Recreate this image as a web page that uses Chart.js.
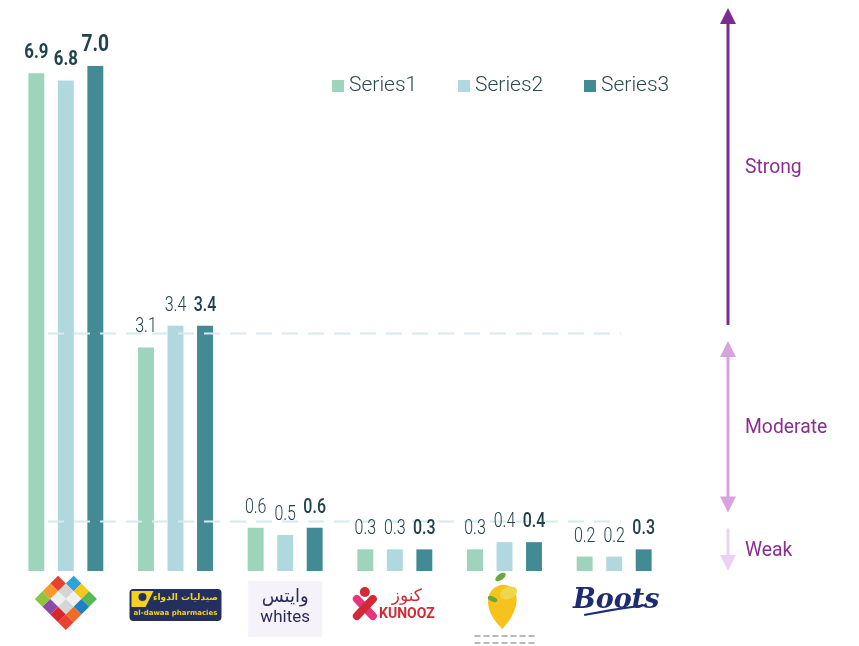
<!DOCTYPE html>
<html>
<head>
<meta charset="utf-8">
<script src="https://cdn.jsdelivr.net/npm/chart.js@4.4.1/dist/chart.umd.min.js"></script>
<style>
  html, body { margin: 0; padding: 0; background: #fff; }
  #wrap { width: 859px; height: 646px; position: relative; }
</style>
</head>
<body>
<div id="wrap"><canvas id="chart"></canvas></div>
<script>
// data
const categories = ["Nahdi", "Al-Dawaa", "Whites", "Kunooz", "Lemon", "Boots"];
const series1 = [6.9, 3.1, 0.6, 0.3, 0.3, 0.2];
const series2 = [6.8, 3.4, 0.5, 0.3, 0.4, 0.2];
const series3 = [7.0, 3.4, 0.6, 0.3, 0.4, 0.3];
const seriesNames = ["Series1", "Series2", "Series3"];
const seriesColors = ["#9dd4bb", "#b1d8df", "#438b94"];
const thresholds = [3.3, 0.7];
const bands = ["Strong", "Moderate", "Weak"];

const FONT = "Roboto, 'DejaVu Sans', sans-serif";

// draw text squeezed horizontally (the original uses a condensed face)
function narrowText(ctx, txt, x, y, sx) {
    ctx.save();
    ctx.translate(x, y);
    ctx.scale(sx, 1);
    ctx.fillText(txt, 0, 0);
    ctx.restore();
}

// dashed threshold lines, drawn over the bars but under the labels
const dashes = {
    id: "dashes",
    afterDatasetsDraw(chart) {
        const ctx = chart.ctx;
        const y = chart.scales.y;
        const area = chart.chartArea;
        ctx.save();
        ctx.strokeStyle = "#d6eaed";
        ctx.lineWidth = 2;
        ctx.setLineDash([16, 10]);
        thresholds.forEach(t => {
            const py = Math.round(y.getPixelForValue(t)) + 0.5;
            ctx.beginPath();
            ctx.moveTo(area.left + 37, py);
            ctx.lineTo(area.left + 610, py);
            ctx.stroke();
        });
        ctx.restore();
    }
};

// value labels above bars
const barLabels = {
    id: "barLabels",
    afterDatasetsDraw(chart) {
        const ctx = chart.ctx;
        const maxVal = Math.max(...series3);
        ctx.save();
        ctx.fillStyle = "#21424b";
        ctx.textAlign = "center";
        ctx.textBaseline = "alphabetic";
        chart.data.datasets.forEach((ds, di) => {
            const meta = chart.getDatasetMeta(di);
            meta.data.forEach((bar, i) => {
                const v = ds.data[i];
                let weight = di === 2 ? 500 : 300;
                let size = 20;
                if (i === 0) { weight = 700; size = 21; }
                if (v === maxVal && i === 0) size = 24;
                ctx.font = weight + " " + size + "px " + FONT;
                narrowText(ctx, v.toFixed(1), bar.x, bar.y - 15, 0.8);
            });
        });
        ctx.restore();
    }
};

// legend, arrows, logos
const extras = {
    id: "extras",
    afterDatasetsDraw(chart) {
        const ctx = chart.ctx;
        const y = chart.scales.y;
        const area = chart.chartArea;

        // legend
        ctx.save();
        ctx.font = "300 21px " + FONT;
        ctx.textBaseline = "middle";
        const ly = 86;
        seriesNames.forEach((n, i) => {
            const lx = 332 + i * 126;
            ctx.fillStyle = seriesColors[i];
            ctx.fillRect(lx, ly - 6, 12, 12);
            ctx.fillStyle = "#2b4a52";
            ctx.fillText(n, lx + 17, ly);
        });
        ctx.restore();

        // strength arrows
        const ax = area.right + 59;
        const yHi = y.getPixelForValue(thresholds[0]);
        const yLo = y.getPixelForValue(thresholds[1]);
        const y0 = y.getPixelForValue(0);
        const segs = [
            { top: 8, bottom: yHi - 8, color: "#7b2d8e", up: true, down: false },
            { top: yHi + 8, bottom: yLo - 8, color: "#d8a2de", up: true, down: true },
            { top: yLo + 8, bottom: y0, color: "#ecd2f0", up: false, down: true }
        ];
        ctx.save();
        segs.forEach((s, i) => {
            ctx.strokeStyle = s.color;
            ctx.fillStyle = s.color;
            ctx.lineWidth = 3;
            const t = s.up ? s.top + 14 : s.top;
            const b = s.down ? s.bottom - 14 : s.bottom;
            ctx.beginPath();
            ctx.moveTo(ax, t);
            ctx.lineTo(ax, b);
            ctx.stroke();
            if (s.up) {
                ctx.beginPath();
                ctx.moveTo(ax, s.top);
                ctx.lineTo(ax - 8, s.top + 16);
                ctx.lineTo(ax + 8, s.top + 16);
                ctx.closePath();
                ctx.fill();
            }
            if (s.down) {
                ctx.beginPath();
                ctx.moveTo(ax, s.bottom);
                ctx.lineTo(ax - 8, s.bottom - 16);
                ctx.lineTo(ax + 8, s.bottom - 16);
                ctx.closePath();
                ctx.fill();
            }
            ctx.fillStyle = "#8a2e8f";
            ctx.font = "400 21px " + FONT;
            ctx.textBaseline = "middle";
            ctx.textAlign = "left";
            narrowText(ctx, bands[i], ax + 17, (s.top + s.bottom) / 2 + 1, 0.92);
        });
        ctx.restore();

        // logos under each group
        const xs = chart.scales.x;
        categories.forEach((c, i) => {
            drawLogo(ctx, c, xs.getPixelForValue(i), y0 + 30);
        });
    }
};

function drawLogo(ctx, name, cx, cy) {
    ctx.save();
    if (name === "Nahdi") {
        const s = 11;
        const cols = ["#e8412f", "#f39a2a", "#8cc63e", "#2ba3dc", "#8c4aa8", "#f6c61d", "#d7262d", "#57b859", "#1e7fc2", "#ef6b2c"];
        let k = 0;
        for (let u = 0; u < 4; u++) {
            for (let v = 0; v < 4; v++) {
                if (u === 0 && v === 0) continue;
                const a = (u - 1.5) * s, b = (v - 1.5) * s;
                const px = cx + (a - b) / Math.SQRT2;
                const py = cy - 2 + (a + b) / Math.SQRT2;
                const inner = u > 0 && u < 3 && v > 0 && v < 3;
                ctx.fillStyle = inner ? (u + v === 3 ? "#eef0f0" : "#d3d6d6") : cols[k++ % cols.length];
                ctx.save();
                ctx.translate(px, py);
                ctx.rotate(Math.PI / 4);
                ctx.fillRect(-s / 2, -s / 2, s, s);
                ctx.restore();
            }
        }
    } else if (name === "Al-Dawaa") {
        ctx.fillStyle = "#23305f";
        ctx.beginPath();
        ctx.roundRect(cx - 46, cy - 12, 92, 32, 4);
        ctx.fill();
        ctx.fillStyle = "#f4d21c";
        ctx.beginPath();
        ctx.moveTo(cx - 44, cy - 10);
        ctx.lineTo(cx - 22, cy - 10);
        ctx.lineTo(cx - 30, cy + 6);
        ctx.lineTo(cx - 44, cy + 6);
        ctx.closePath();
        ctx.fill();
        ctx.fillStyle = "#23305f";
        ctx.beginPath();
        ctx.arc(cx - 33, cy - 4, 4, 0, Math.PI * 2);
        ctx.fill();
        ctx.fillStyle = "#f4d21c";
        ctx.font = "700 9px 'DejaVu Sans', sans-serif";
        ctx.textAlign = "center";
        ctx.textBaseline = "middle";
        ctx.fillText("صيدليات الدواء", cx + 10, cy - 3);
        ctx.font = "700 7px 'DejaVu Sans', sans-serif";
        ctx.fillText("al-dawaa pharmacies", cx, cy + 12);
    } else if (name === "Whites") {
        ctx.fillStyle = "#f5f3f9";
        ctx.fillRect(cx - 37, cy - 20, 74, 56);
        ctx.fillStyle = "#2b2a5c";
        ctx.textAlign = "center";
        ctx.textBaseline = "middle";
        ctx.font = "400 18px 'DejaVu Sans', sans-serif";
        ctx.fillText("وايتس", cx, cy - 4);
        ctx.font = "400 17px " + FONT;
        ctx.fillText("whites", cx, cy + 17);
    } else if (name === "Kunooz") {
        ctx.lineCap = "round";
        ctx.lineWidth = 8;
        ctx.strokeStyle = "#e8347c";
        ctx.beginPath();
        ctx.moveTo(cx - 38, cy - 2);
        ctx.lineTo(cx - 22, cy + 15);
        ctx.stroke();
        ctx.strokeStyle = "#d12a36";
        ctx.beginPath();
        ctx.moveTo(cx - 22, cy - 2);
        ctx.lineTo(cx - 38, cy + 15);
        ctx.stroke();
        ctx.fillStyle = "#d12a36";
        ctx.beginPath();
        ctx.arc(cx - 30, cy - 9, 5, 0, Math.PI * 2);
        ctx.fill();
        ctx.textAlign = "center";
        ctx.textBaseline = "middle";
        ctx.font = "400 17px 'DejaVu Sans', sans-serif";
        ctx.fillText("كنوز", cx + 12, cy - 4);
        ctx.font = "700 14px " + FONT;
        ctx.fillText("KUNOOZ", cx + 12, cy + 13);
    } else if (name === "Lemon") {
        ctx.fillStyle = "#f5c21e";
        ctx.beginPath();
        ctx.moveTo(cx - 2, cy + 28);
        ctx.bezierCurveTo(cx - 22, cy + 10, cx - 20, cy - 12, cx - 4, cy - 16);
        ctx.bezierCurveTo(cx + 14, cy - 18, cx + 20, cy + 4, cx - 2, cy + 28);
        ctx.fill();
        ctx.fillStyle = "#f0d64a";
        ctx.beginPath();
        ctx.ellipse(cx + 4, cy - 8, 9, 6, -0.4, 0, Math.PI * 2);
        ctx.fill();
        ctx.fillStyle = "#6aa83c";
        ctx.beginPath();
        ctx.ellipse(cx - 4, cy - 24, 6, 3, -0.6, 0, Math.PI * 2);
        ctx.fill();
        ctx.beginPath();
        ctx.ellipse(cx - 12, cy - 2, 5, 2.5, 0.4, 0, Math.PI * 2);
        ctx.fill();
        ctx.fillStyle = "#b9b9b9";
        for (let r = 0; r < 2; r++) {
            for (let k = 0; k < 7; k++) {
                ctx.fillRect(cx - 30 + k * 9, cy + 34 + r * 7, 6, 2);
            }
        }
    } else if (name === "Boots") {
        ctx.fillStyle = "#1d2b70";
        ctx.textAlign = "center";
        ctx.textBaseline = "middle";
        ctx.font = "italic 700 27px 'DejaVu Serif', serif";
        ctx.fillText("Boots", cx + 2, cy);
        ctx.strokeStyle = "#1d2b70";
        ctx.lineWidth = 2;
        ctx.beginPath();
        ctx.moveTo(cx - 30, cy + 14);
        ctx.quadraticCurveTo(cx, cy + 8, cx + 32, cy + 4);
        ctx.stroke();
    }
    ctx.restore();
}

const ctx = document.getElementById("chart").getContext("2d");
new Chart(ctx, {
    type: "bar",
    data: {
        labels: categories,
        datasets: [series1, series2, series3].map((d, i) => ({
            label: seriesNames[i],
            data: d,
            backgroundColor: seriesColors[i],
            categoryPercentage: 0.807,
            barPercentage: 0.54
        }))
    },
    options: {
        responsive: true,
        maintainAspectRatio: false,
        animation: false,
        layout: { padding: { left: 11, right: 190, top: 30, bottom: 75 } },
        plugins: { legend: { display: false }, tooltip: { enabled: false } },
        scales: {
            x: { display: false },
            y: { display: false, min: 0, max: 7.5 }
        }
    },
    plugins: [dashes, barLabels, extras]
});
</script>
</body>
</html>
